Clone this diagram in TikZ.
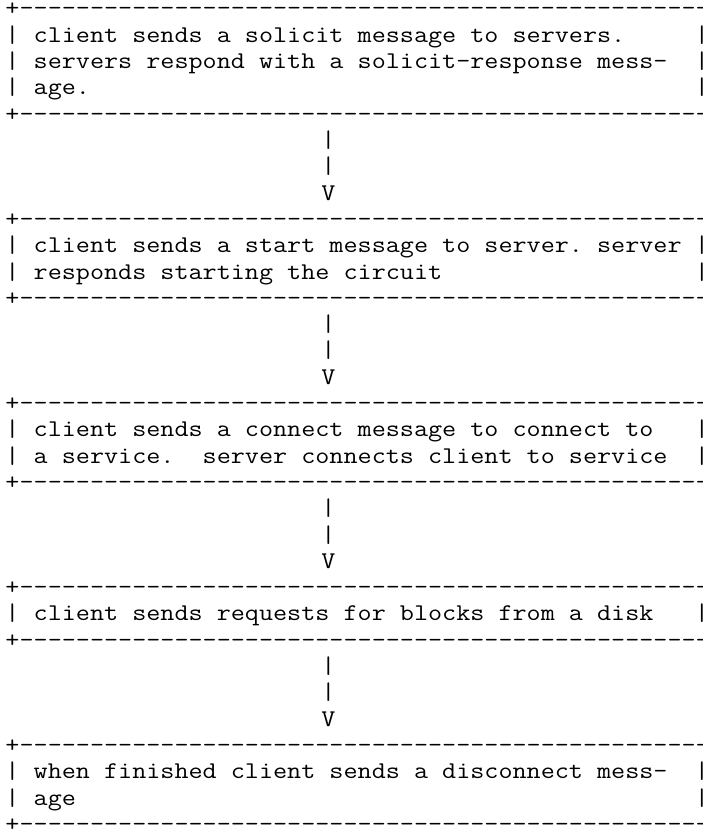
\documentclass[tikz,border=0pt]{standalone}
\usepackage{graphicx}
\usepackage{tikz}

\tikzset{
  asciirow/.style={anchor=base west, inner sep=0pt, outer sep=0pt,
    font=\ttfamily\fontsize{24pt}{26pt}\selectfont\frenchspacing}
}
\newcommand{\ascii}[1]{\scalebox{1.1397}[1]{#1}}
\newcommand{\dashrow}{+-------------------------------------------------}

\begin{document}
\begin{tikzpicture}[x=14.36pt, y=-26.3pt]
    \useasboundingbox (-5.5pt,16pt) rectangle ++(703pt,-834pt);
    \fill[white] (-5.5pt,16pt) rectangle ++(703pt,-834pt);
    \clip (-5.5pt,16pt) rectangle ++(703pt,-834pt);
    % box borders
    \foreach \i in {0,4,8,11,15,18,22,24,28,31}
      \node[asciirow] (edge\i) at (0,\i) {\ascii{\dashrow}};
    % box texts
    \node[asciirow] (solicit) at (0,1) {\ascii{| client sends a solicit message to servers.}};
    \node[asciirow] (respond) at (0,2) {\ascii{| servers respond with a solicit-response mess-}};
    \node[asciirow] (respondb) at (0,3) {\ascii{| age.}};
    \node[asciirow] (start) at (0,9) {\ascii{| client sends a start message to server. server}};
    \node[asciirow] (circuit) at (0,10) {\ascii{| responds starting the circuit}};
    \node[asciirow] (connect) at (0,16) {\ascii{| client sends a connect message to connect to}};
    \node[asciirow] (service) at (0,17) {\ascii{| a service.\ \ server connects client to service}};
    \node[asciirow] (blocks) at (0,23) {\ascii{| client sends requests for blocks from a disk}};
    \node[asciirow] (disconnect) at (0,29) {\ascii{| when finished client sends a disconnect mess-}};
    \node[asciirow] (disconnectb) at (0,30) {\ascii{| age}};
    % right edge bars
    \foreach \i in {1,2,3,9,10,16,17,23,29,30}
      \node[asciirow] (bar\i) at (48,\i) {\ascii{|}};
    % arrows between boxes
    \foreach \i in {4,11,18,24} {
      \node[asciirow] (stem\i) at (22,\i+1) {\ascii{|}};
      \node[asciirow] (shaft\i) at (22,\i+2) {\ascii{|}};
      \node[asciirow] (tip\i) at (22,\i+3) {\ascii{V}};
    }
\end{tikzpicture}
\end{document}
